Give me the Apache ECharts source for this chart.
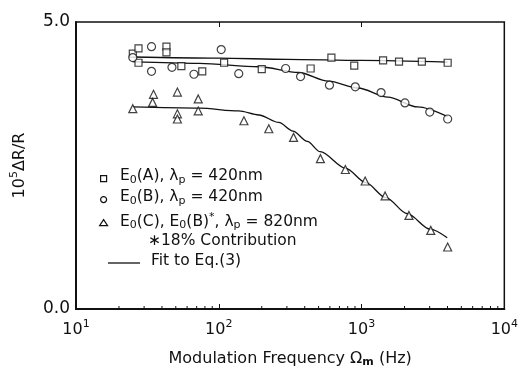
<!DOCTYPE html>
<html>
<head>
<meta charset="utf-8">
<script src="https://cdn.jsdelivr.net/npm/echarts@6/dist/echarts.min.js"></script>
<style>
  html, body { margin: 0; padding: 0; background: #fff; }
  #chart { width: 521px; height: 373px; }
</style>
</head>
<body>
<div id="chart"></div>
<script>
// data: [frequency Hz, 10^5 dR/R]
const seriesA = [
  [25, 4.45], [27.4, 4.54], [27.4, 4.29], [43, 4.57], [43, 4.47], [54.7, 4.23],
  [76.6, 4.14], [109, 4.29], [200, 4.18], [440, 4.19], [615, 4.38], [889, 4.24],
  [1415, 4.33], [1830, 4.31], [2645, 4.31], [4010, 4.29]
]
const seriesB = [
  [25, 4.38], [33.8, 4.57], [33.8, 4.14], [47, 4.21], [67, 4.09], [104, 4.52],
  [138, 4.10], [294, 4.19], [374, 4.05], [596, 3.90], [904, 3.87], [1370, 3.77],
  [2014, 3.59], [3005, 3.43], [4010, 3.31]
]
const seriesC = [
  [25, 3.49], [34.9, 3.74], [34.4, 3.60], [51.3, 3.78], [51.3, 3.40], [51.3, 3.31],
  [71.8, 3.66], [71.8, 3.45], [150, 3.28], [224, 3.14], [334, 2.99], [515, 2.62],
  [770, 2.43], [1060, 2.23], [1462, 1.97], [2148, 1.63], [3053, 1.37], [4010, 1.08]
]
// fit curves (Eq. 3)
const fitA = [[25, 4.39], [100, 4.37], [300, 4.35], [1000, 4.33], [4010, 4.30]]
const fitB = [
  [25, 4.31], [73, 4.28], [191, 4.22], [363, 4.12], [586, 3.97], [945, 3.85],
  [1530, 3.69], [2470, 3.52], [4010, 3.35]
]
const fitC = [
  [25, 3.52], [73, 3.50], [138, 3.45], [191, 3.38], [263, 3.25], [331, 3.10],
  [417, 2.92], [513, 2.74], [776, 2.45], [1072, 2.20], [1479, 1.94], [2089, 1.66],
  [3020, 1.39], [3981, 1.24]
]
const minorTicks = [
  20, 30, 40, 50, 60, 70, 80, 90,
  200, 300, 400, 500, 600, 700, 800, 900,
  2000, 3000, 4000, 5000, 6000, 7000, 8000, 9000
]
const yTicks = [0, 5]

const INK = '#111'
const FONT = 'DejaVu Sans'
const LEGEND_SIZE = 15.5

const chart = echarts.init(document.getElementById('chart'))

const markerStyle = { color: '#fff', borderColor: INK, borderWidth: 1.2 }

function scatter (data, symbol, size) {
  return {
    type: 'scatter',
    data: data,
    symbol: symbol,
    symbolSize: size,
    itemStyle: markerStyle,
    z: 3
  }
}

function fit (data) {
  return {
    type: 'line',
    data: data,
    smooth: 0.3,
    smoothMonotone: 'x',
    showSymbol: false,
    lineStyle: { color: INK, width: 1.3 },
    z: 2
  }
}

const supLabel = v => '{b|10}{s|' + Math.round(Math.log10(v)) + '}'

const legendRich = {
  sub: { fontSize: 11, fontFamily: FONT, color: INK, padding: [8, 0, 0, 0] },
  sup: { fontSize: 11, fontFamily: FONT, color: INK, padding: [0, 0, 8, 0] }
}
const legendText = (x, y, text) => ({
  type: 'text',
  left: x,
  top: y - 10,
  style: { text: text, fontSize: LEGEND_SIZE, fontFamily: FONT, fill: INK, rich: legendRich }
})

const options = {
  animation: false,
  backgroundColor: '#fff',
  grid: {
    left: 76,
    right: 14,
    top: 22,
    bottom: 60,
    show: true,
    borderColor: INK,
    borderWidth: 1.5
  },
  xAxis: [{
    type: 'log',
    logBase: 10,
    min: 10,
    max: 10000,
    axisLine: { lineStyle: { color: INK, width: 2 } },
    axisTick: { inside: true, length: 5, lineStyle: { color: INK } },
    splitLine: { show: false },
    axisLabel: {
      margin: 10,
      formatter: supLabel,
      rich: {
        b: { fontSize: 16, fontFamily: FONT, color: INK },
        s: { fontSize: 11, fontFamily: FONT, color: INK, padding: [0, 0, 10, 0] }
      }
    },
    name: '{t|Modulation Frequency Ω}{m|m}{t| (Hz)}',
    nameLocation: 'middle',
    nameGap: 40,
    nameTextStyle: {
      rich: {
        t: { fontSize: 16, fontFamily: FONT, color: INK },
        m: { fontSize: 11, fontFamily: FONT, color: INK, fontWeight: 'bold', padding: [8, 0, 0, 0] }
      }
    }
  }, {
    type: 'log',
    logBase: 10,
    min: 10,
    max: 10000,
    position: 'top',
    axisLine: { show: false },
    axisTick: { inside: true, length: 5, lineStyle: { color: INK } },
    axisLabel: { show: false },
    splitLine: { show: false }
  }],
  yAxis: {
    type: 'value',
    min: yTicks[0],
    max: yTicks[1],
    interval: 5,
    axisLine: { show: true, lineStyle: { color: INK, width: 2 } },
    axisTick: { show: false },
    splitLine: { show: false },
    axisLabel: {
      margin: 6,
      fontSize: 17,
      fontFamily: FONT,
      color: INK,
      formatter: v => v.toFixed(1)
    },
    name: '{t|10}{s|5}{t|ΔR/R}',
    nameLocation: 'middle',
    nameGap: 46,
    nameTextStyle: {
      rich: {
        t: { fontSize: 16, fontFamily: FONT, color: INK },
        s: { fontSize: 11, fontFamily: FONT, color: INK, padding: [0, 0, 10, 0] }
      }
    }
  },
  series: [
    fit(fitA),
    fit(fitB),
    fit(fitC),
    scatter(seriesA, 'rect', 7),
    scatter(seriesB, 'circle', 8),
    scatter(seriesC, 'triangle', 8),
    {
      type: 'custom',
      data: minorTicks.map(f => [f, 0]),
      renderItem: (params, api) => {
        const p = api.coord([api.value(0), 0])
        return {
          type: 'line',
          shape: { x1: p[0], y1: p[1], x2: p[0], y2: p[1] - 3 },
          style: { stroke: INK, lineWidth: 1 }
        }
      },
      z: 1
    }
  ],
  graphic: [
    { type: 'rect', left: 100, top: 175, shape: { width: 6, height: 6 }, style: { fill: '#fff', stroke: INK, lineWidth: 1.2 } },
    legendText(120, 178, 'E{sub|0}(A), λ{sub|p} = 420nm'),
    { type: 'circle', left: 100, top: 196, shape: { r: 3 }, style: { fill: '#fff', stroke: INK, lineWidth: 1.2 } },
    legendText(120, 199, 'E{sub|0}(B), λ{sub|p} = 420nm'),
    { type: 'polygon', left: 99, top: 219, shape: { points: [[4, 0], [8, 6], [0, 6]] }, style: { fill: '#fff', stroke: INK, lineWidth: 1.2 } },
    legendText(120, 222, 'E{sub|0}(C), E{sub|0}(B){sup|*}, λ{sub|p} = 820nm'),
    legendText(148, 243, '∗18% Contribution'),
    { type: 'line', shape: { x1: 108, y1: 263, x2: 140, y2: 263 }, style: { stroke: INK, lineWidth: 1.3 } },
    legendText(151, 263, 'Fit to Eq.(3)')
  ]
}

chart.setOption(options)
</script>
</body>
</html>
